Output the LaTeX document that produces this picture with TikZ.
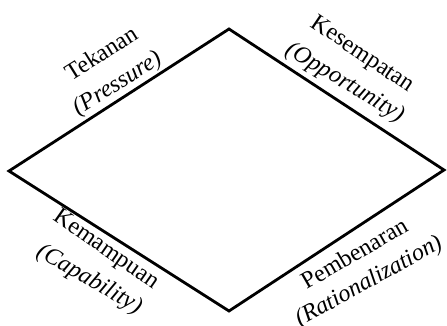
\documentclass[tikz,border=0pt]{standalone}
\usepackage{fontspec}
\setmainfont{Liberation Serif}
\newfontfamily\tnr{Liberation Serif}
\begin{document}
\begin{tikzpicture}[x=1pt,y=-1pt,
  lbl/.style={inner sep=0pt,font=\tnr\fontsize{24}{28}\selectfont},
  edge/.style={line width=2.8pt,line join=miter}]
\useasboundingbox (0,0) rectangle (447,326);
\coordinate (L) at (9,171);
\coordinate (T) at (229,29);
\coordinate (R) at (444,170);
\coordinate (B) at (229,311);
\draw[edge] (L) -- (T) -- (R) -- (B) -- cycle;
\node[lbl,rotate=32] (tek) at (101,53) {Tekanan};
\node[lbl,rotate=32] (pre) at (118,84) {\itshape(Pressure)};
\node[lbl,rotate=-34] (kes) at (362,55) {Kesempatan};
\node[lbl,rotate=-31] (opp) at (345,83) {\itshape(Opportunity)};
\node[lbl,rotate=-35] (kem) at (106,250) {Kemampuan};
\node[lbl,rotate=-30] (cap) at (89,280) {\itshape(Capability)};
\node[lbl,rotate=30] (pem) at (354,253) {Pembenaran};
\node[lbl,rotate=29] (rat) at (369,282) {\itshape(Rationalization)};
\end{tikzpicture}
\end{document}
